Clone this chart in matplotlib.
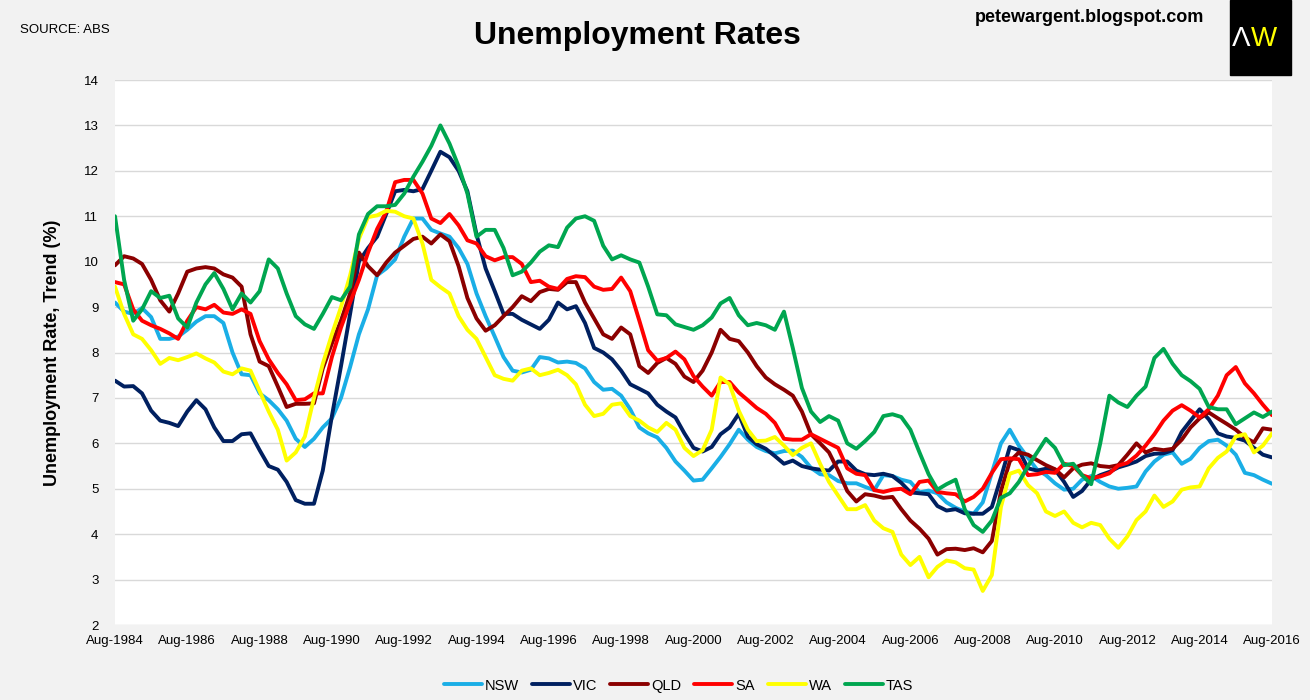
import matplotlib
matplotlib.use("Agg")
import matplotlib.pyplot as plt
import matplotlib.dates as mdates
from matplotlib.patches import Rectangle
import pandas as pd

plt.rcParams['font.family'] = ['Liberation Sans Narrow', 'Liberation Sans', 'DejaVu Sans']

# quarterly readings, Aug-1984 .. Aug-2016
dates = pd.date_range("1984-08-01", periods=129, freq="3MS")

nsw = [9.1, 8.9, 8.85, 8.98, 8.78, 8.3, 8.3, 8.35, 8.5, 8.68, 8.8, 8.8, 8.65, 8.0, 7.52, 7.5, 7.1, 6.95, 6.75, 6.5, 6.1, 5.92,
       6.1, 6.35, 6.55, 7.0, 7.68, 8.4, 8.95, 9.7, 9.85, 10.05, 10.55, 10.95, 10.95, 10.7, 10.62, 10.55, 10.3, 9.95, 9.3, 8.8, 8.35,
       7.9, 7.6, 7.56, 7.62, 7.9, 7.87, 7.78, 7.8, 7.77, 7.65, 7.35, 7.18, 7.2, 7.05, 6.75, 6.35, 6.22, 6.13, 5.9, 5.6, 5.4,
       5.18, 5.2, 5.45, 5.7, 5.98, 6.3, 6.08, 5.92, 5.83, 5.78, 5.83, 5.84, 5.7, 5.46, 5.32, 5.3, 5.17, 5.12, 5.12, 5.04, 4.97,
       5.3, 5.28, 5.2, 5.15, 4.92, 4.96, 4.9, 4.7, 4.58, 4.5, 4.45, 4.7, 5.35, 6.0, 6.3, 5.95, 5.68, 5.42, 5.3, 5.12, 4.98,
       5.0, 5.2, 5.28, 5.15, 5.05, 5.0, 5.02, 5.05, 5.38, 5.6, 5.75, 5.8, 5.55, 5.66, 5.9, 6.05, 6.08, 5.95, 5.75, 5.35, 5.3, 5.2, 5.11]

vic = [7.38, 7.25, 7.26, 7.1, 6.72, 6.5, 6.45, 6.38, 6.7, 6.95, 6.75, 6.35, 6.05, 6.05, 6.2, 6.22, 5.85, 5.5, 5.42, 5.15, 4.75, 4.67,
       4.67, 5.4, 6.6, 7.7, 8.85, 10.0, 10.3, 10.55, 11.05, 11.55, 11.58, 11.55, 11.6, 12.0, 12.42, 12.3, 12.0, 11.55, 10.6, 9.85, 9.35,
       8.85, 8.85, 8.72, 8.62, 8.52, 8.72, 9.1, 8.95, 9.02, 8.65, 8.1, 8.0, 7.85, 7.6, 7.3, 7.2, 7.1, 6.85, 6.7, 6.57, 6.22,
       5.9, 5.82, 5.92, 6.2, 6.35, 6.65, 6.15, 5.98, 5.88, 5.72, 5.55, 5.62, 5.5, 5.45, 5.42, 5.4, 5.6, 5.6, 5.4, 5.32, 5.3,
       5.33, 5.28, 5.13, 4.92, 4.9, 4.88, 4.62, 4.52, 4.55, 4.46, 4.45, 4.45, 4.6, 5.25, 5.92, 5.85, 5.45, 5.4, 5.44, 5.42, 5.15,
       4.82, 4.95, 5.2, 5.3, 5.37, 5.47, 5.53, 5.6, 5.72, 5.77, 5.78, 5.85, 6.25, 6.5, 6.75, 6.53, 6.22, 6.15, 6.12, 6.06, 5.9, 5.75, 5.69]

qld = [9.92, 10.12, 10.07, 9.95, 9.6, 9.15, 8.9, 9.3, 9.78, 9.85, 9.88, 9.85, 9.72, 9.65, 9.45, 8.4, 7.8, 7.7, 7.25, 6.8, 6.87, 6.87,
       6.88, 7.65, 8.2, 8.7, 9.3, 10.2, 9.9, 9.7, 9.98, 10.2, 10.35, 10.5, 10.55, 10.4, 10.6, 10.45, 9.9, 9.2, 8.75, 8.48, 8.6,
       8.8, 9.0, 9.24, 9.13, 9.33, 9.4, 9.38, 9.55, 9.55, 9.1, 8.75, 8.4, 8.3, 8.55, 8.4, 7.7, 7.55, 7.77, 7.88, 7.75, 7.47,
       7.35, 7.6, 8.0, 8.5, 8.3, 8.25, 8.0, 7.7, 7.45, 7.3, 7.18, 7.05, 6.7, 6.2, 6.0, 5.8, 5.4, 4.95, 4.72, 4.88, 4.85,
       4.8, 4.82, 4.55, 4.3, 4.12, 3.9, 3.55, 3.67, 3.68, 3.65, 3.69, 3.6, 3.85, 4.95, 5.6, 5.8, 5.75, 5.63, 5.52, 5.43, 5.25,
       5.45, 5.53, 5.56, 5.5, 5.48, 5.52, 5.75, 6.0, 5.8, 5.88, 5.85, 5.88, 6.08, 6.35, 6.55, 6.68, 6.55, 6.43, 6.3, 6.13, 6.02, 6.33, 6.3]

sa = [9.55, 9.5, 8.95, 8.7, 8.6, 8.52, 8.42, 8.3, 8.7, 9.0, 8.95, 9.05, 8.88, 8.85, 8.95, 8.85, 8.25, 7.85, 7.55, 7.3, 6.95, 6.97,
      7.1, 7.1, 7.9, 8.55, 9.1, 9.6, 10.2, 10.72, 11.1, 11.75, 11.8, 11.8, 11.5, 10.95, 10.85, 11.05, 10.8, 10.47, 10.4, 10.12, 10.03,
      10.1, 10.1, 9.95, 9.55, 9.58, 9.45, 9.4, 9.62, 9.68, 9.66, 9.45, 9.38, 9.4, 9.65, 9.35, 8.7, 8.05, 7.82, 7.88, 8.02, 7.85,
      7.48, 7.25, 7.05, 7.35, 7.35, 7.12, 6.95, 6.78, 6.65, 6.45, 6.1, 6.08, 6.08, 6.2, 6.1, 6.0, 5.9, 5.45, 5.33, 5.3, 4.97,
      4.93, 4.98, 5.0, 4.88, 5.15, 5.18, 4.93, 4.9, 4.88, 4.72, 4.82, 5.0, 5.35, 5.65, 5.67, 5.65, 5.3, 5.32, 5.37, 5.35, 5.55,
      5.5, 5.3, 5.23, 5.27, 5.34, 5.51, 5.57, 5.73, 5.95, 6.2, 6.5, 6.72, 6.84, 6.72, 6.57, 6.75, 7.05, 7.5, 7.68, 7.32, 7.1, 6.85, 6.62]

wa = [9.45, 8.85, 8.4, 8.3, 8.05, 7.75, 7.88, 7.83, 7.9, 7.98, 7.87, 7.78, 7.58, 7.52, 7.65, 7.6, 7.15, 6.7, 6.3, 5.62, 5.8, 6.15,
      7.0, 7.75, 8.4, 9.0, 9.7, 10.5, 10.98, 11.02, 11.12, 11.1, 11.0, 10.95, 10.4, 9.6, 9.44, 9.3, 8.8, 8.5, 8.3, 7.9, 7.5,
      7.42, 7.38, 7.6, 7.65, 7.5, 7.55, 7.62, 7.5, 7.3, 6.85, 6.6, 6.65, 6.85, 6.88, 6.6, 6.5, 6.35, 6.25, 6.45, 6.3, 5.9,
      5.72, 5.85, 6.3, 7.45, 7.3, 6.72, 6.3, 6.05, 6.06, 6.14, 5.95, 5.74, 5.9, 6.0, 5.55, 5.15, 4.85, 4.55, 4.55, 4.64, 4.3,
      4.13, 4.05, 3.55, 3.32, 3.5, 3.05, 3.28, 3.42, 3.38, 3.25, 3.22, 2.75, 3.1, 4.6, 5.33, 5.4, 5.08, 4.9, 4.5, 4.4, 4.5,
      4.25, 4.15, 4.25, 4.2, 3.9, 3.7, 3.95, 4.31, 4.5, 4.85, 4.6, 4.72, 4.98, 5.03, 5.05, 5.45, 5.68, 5.82, 6.15, 6.2, 5.8, 5.95, 6.22]

tas = [11.0, 9.6, 8.7, 8.95, 9.35, 9.2, 9.25, 8.75, 8.55, 9.1, 9.5, 9.75, 9.4, 8.95, 9.3, 9.1, 9.35, 10.05, 9.85, 9.3, 8.8, 8.62,
       8.52, 8.85, 9.22, 9.15, 9.45, 10.6, 11.05, 11.22, 11.22, 11.25, 11.5, 11.87, 12.2, 12.55, 13.0, 12.6, 12.1, 11.5, 10.55, 10.7, 10.7,
       10.3, 9.7, 9.78, 9.98, 10.22, 10.36, 10.32, 10.75, 10.95, 11.0, 10.9, 10.35, 10.05, 10.14, 10.05, 9.98, 9.45, 8.84, 8.82, 8.62, 8.56,
       8.5, 8.6, 8.77, 9.08, 9.2, 8.82, 8.6, 8.65, 8.6, 8.5, 8.9, 8.1, 7.22, 6.7, 6.47, 6.6, 6.5, 6.0, 5.88, 6.05, 6.25,
       6.6, 6.64, 6.58, 6.3, 5.8, 5.32, 4.98, 5.1, 5.2, 4.55, 4.2, 4.05, 4.3, 4.8, 4.9, 5.15, 5.5, 5.8, 6.1, 5.9, 5.52,
       5.55, 5.3, 5.1, 6.0, 7.05, 6.9, 6.8, 7.05, 7.25, 7.88, 8.08, 7.75, 7.5, 7.37, 7.2, 6.8, 6.75, 6.75, 6.42, 6.55, 6.68, 6.58, 6.7]

states = ["NSW", "VIC", "QLD", "SA", "WA", "TAS"]
colours = ["#1AAEE6", "#002060", "#8B0000", "#FF0000", "#FFFF00", "#00A650"]

fig = plt.figure(figsize=(13.1, 7.0), dpi=100, facecolor="#F2F2F2")
ax = fig.add_axes([115 / 1310, 75 / 700, 1157 / 1310, 545 / 700])
ax.set_facecolor("white")

for name, vals, col in zip(states, [nsw, vic, qld, sa, wa, tas], colours):
    ax.plot(dates, vals, color=col, lw=2.8, label=name, solid_joinstyle="round", solid_capstyle="round")

ax.set_ylim(2, 14)
ax.set_yticks(range(2, 15))
ax.set_xlim(pd.Timestamp("1984-08-01"), pd.Timestamp("2016-08-01"))
ticks = [pd.Timestamp(f"{y}-08-01") for y in range(1984, 2017, 2)]
ax.set_xticks(ticks)
ax.xaxis.set_major_formatter(mdates.DateFormatter("%b-%Y"))
ax.grid(axis="y", color="#D9D9D9", lw=1)
ax.set_axisbelow(True)
for s in ax.spines.values():
    s.set_visible(False)
ax.tick_params(axis="both", length=0, labelsize=9.5, colors="black")
ax.tick_params(axis="x", pad=7)
ax.tick_params(axis="y", pad=12)

ax.set_ylabel("Unemployment Rate, Trend (%)", fontsize=13, fontweight="bold", labelpad=16)

fig.text(0.4865, 0.948, "Unemployment Rates", ha="center", va="center", fontsize=23, fontweight="bold")
fig.text(0.0153, 0.957, "SOURCE: ABS", ha="left", va="center", fontsize=9.5)
fig.text(0.832, 0.975, "petewargent.blogspot.com", ha="center", va="center", fontsize=13, fontweight="bold")

fig.patches.append(Rectangle((1230 / 1310, 1 - 75 / 700), 61 / 1310, 75 / 700,
                             transform=fig.transFigure, color="black", zorder=0))
fig.text(0.9545, 0.945, "Λ", ha="right", va="center", fontsize=20, color="white")
fig.text(0.9545, 0.945, "W", ha="left", va="center", fontsize=20, color="#FFFF00")

ax.legend(loc="lower center", bbox_to_anchor=(0.487, -0.148), ncol=6, frameon=False,
          fontsize=10.5, handlelength=2.6, columnspacing=0.9, handletextpad=0.2)

fig.savefig("out.png", dpi=100, facecolor=fig.get_facecolor())
